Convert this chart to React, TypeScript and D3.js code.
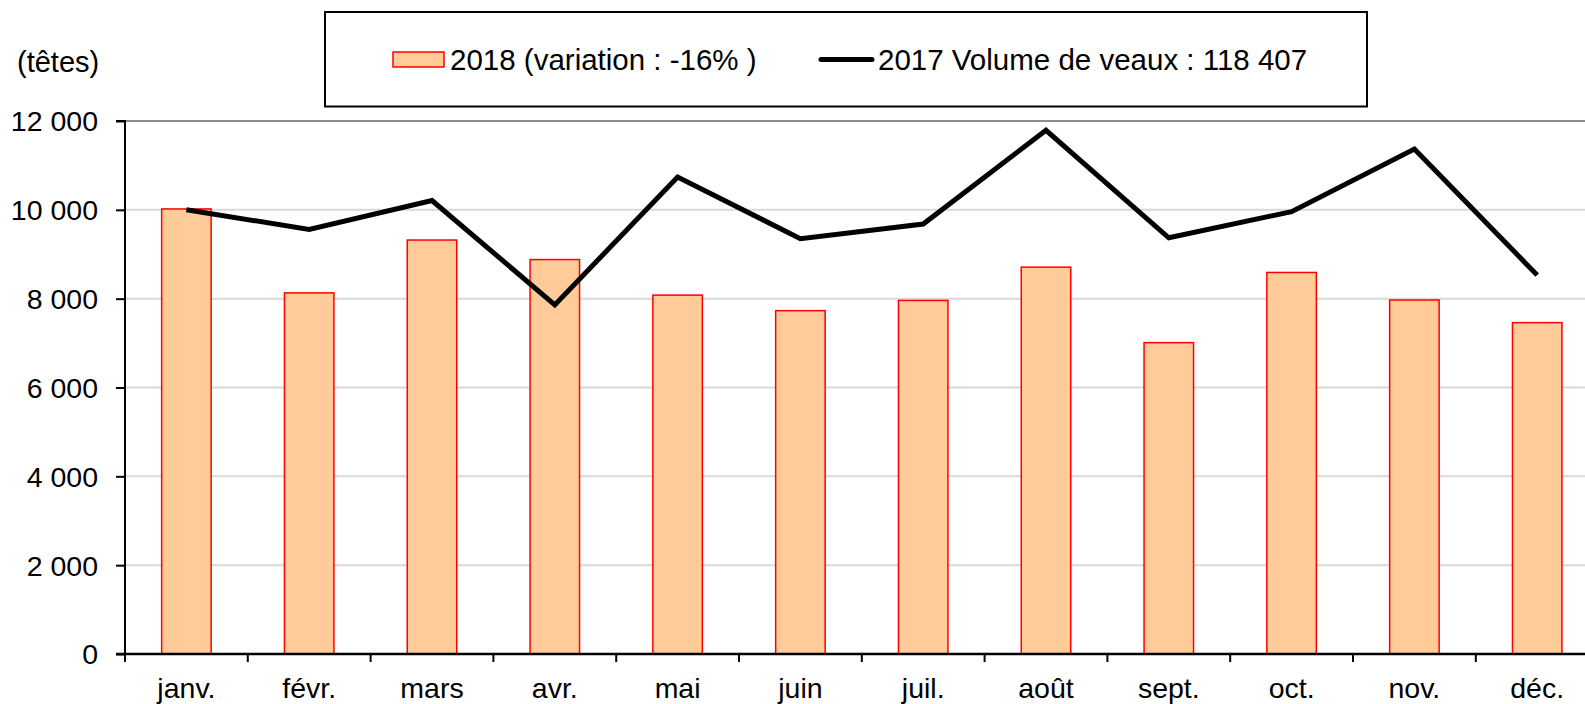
import React, { useEffect, useRef } from "react";
import * as d3 from "d3";

const months = ["janv.", "févr.", "mars", "avr.", "mai", "juin", "juil.", "août", "sept.", "oct.", "nov.", "déc."];
const values2018 = [10020, 8130, 9320, 8880, 8080, 7730, 7960, 8710, 7010, 8590, 7970, 7460];
const values2017 = [10000, 9560, 10210, 7860, 10740, 9350, 9680, 11790, 9370, 9960, 11370, 8530];
const yTicks = [0, 2000, 4000, 6000, 8000, 10000, 12000];
const legend2018 = "2018 (variation : -16% )";
const legend2017 = "2017 Volume de veaux : 118 407";
const unitLabel = "(têtes)";

const W = 1585;
const H = 704;
const FONT = "Liberation Sans, Arial, sans-serif";

export default function App() {
  const ref = useRef<SVGSVGElement | null>(null);

  useEffect(() => {
    const svg = d3.select(ref.current);
    svg.selectAll("*").remove();

    const x0 = 125;
    const step = 122.8;
    const x = d3
      .scaleBand<string>()
      .domain(months)
      .range([x0, x0 + step * months.length])
      .paddingInner(0.597)
      .paddingOuter(0.597 / 2);
    const xCenter = d3.scalePoint<string>().domain(months).range([x0 + step / 2, x0 + step * (months.length - 0.5)]);
    const y = d3.scaleLinear().domain([0, 12000]).range([654, 121]);

    // gridlines
    svg
      .append("g")
      .selectAll("line")
      .data(yTicks.filter((t) => t > 0))
      .join("line")
      .attr("x1", x0)
      .attr("x2", W)
      .attr("y1", (d) => y(d))
      .attr("y2", (d) => y(d))
      .attr("stroke", (d) => (d === 12000 ? "#8c8c8c" : "#d9d9d9"))
      .attr("stroke-width", 2);

    // bars
    svg
      .append("g")
      .selectAll("rect")
      .data(values2018)
      .join("rect")
      .attr("x", (_, i) => x(months[i])!)
      .attr("y", (d) => y(d))
      .attr("width", x.bandwidth())
      .attr("height", (d) => y(0) - y(d))
      .attr("fill", "#FFCC99")
      .attr("stroke", "#FF0000")
      .attr("stroke-width", 1.5);

    // line
    const line = d3
      .line<number>()
      .x((_, i) => xCenter(months[i])!)
      .y((d) => y(d));
    svg
      .append("path")
      .datum(values2017)
      .attr("d", line)
      .attr("fill", "none")
      .attr("stroke", "#000")
      .attr("stroke-width", 5)
      .attr("stroke-linejoin", "miter");

    // y axis
    const yAxis = d3
      .axisLeft(y)
      .tickValues(yTicks)
      .tickSize(9)
      .tickPadding(18)
      .tickFormat((d) => d3.format(",")(d as number).replace(/,/g, " "));
    const gy = svg.append("g").attr("transform", `translate(${x0},0)`).call(yAxis);
    gy.select(".domain").attr("stroke", "#000").attr("stroke-width", 2).attr("d", `M-9,${y(12000)}H0V${y(0)}`);
    gy.selectAll(".tick line").attr("stroke", "#000").attr("stroke-width", 2);
    gy.selectAll(".tick text")
      .attr("font-family", FONT)
      .attr("font-size", 28.5)
      .attr("fill", "#000")
      .attr("dy", "0.35em");

    // x axis
    const boundaries = d3.range(months.length + 1).map((i) => x0 + i * step);
    svg
      .append("line")
      .attr("x1", x0 - 9)
      .attr("x2", W)
      .attr("y1", y(0))
      .attr("y2", y(0))
      .attr("stroke", "#000")
      .attr("stroke-width", 2.5);
    svg
      .append("g")
      .selectAll("line")
      .data(boundaries)
      .join("line")
      .attr("x1", (d) => d)
      .attr("x2", (d) => d)
      .attr("y1", y(0))
      .attr("y2", y(0) + 8)
      .attr("stroke", "#000")
      .attr("stroke-width", 2);
    svg
      .append("g")
      .selectAll("text")
      .data(months)
      .join("text")
      .attr("x", (d) => xCenter(d)!)
      .attr("y", 698)
      .attr("text-anchor", "middle")
      .attr("font-family", FONT)
      .attr("font-size", 28.5)
      .attr("fill", "#000")
      .text((d) => d);

    // unit label
    svg
      .append("text")
      .attr("x", 17)
      .attr("y", 72)
      .attr("font-family", FONT)
      .attr("font-size", 29)
      .attr("fill", "#000")
      .text(unitLabel);

    // legend
    const lg = svg.append("g");
    lg.append("rect")
      .attr("x", 325)
      .attr("y", 12)
      .attr("width", 1042)
      .attr("height", 94.5)
      .attr("fill", "#fff")
      .attr("stroke", "#000")
      .attr("stroke-width", 2);
    lg.append("rect")
      .attr("x", 393)
      .attr("y", 52)
      .attr("width", 51)
      .attr("height", 15)
      .attr("fill", "#FFCC99")
      .attr("stroke", "#FF0000")
      .attr("stroke-width", 1.5);
    lg.append("text")
      .attr("x", 450)
      .attr("y", 69.5)
      .attr("font-family", FONT)
      .attr("font-size", 29.5)
      .attr("fill", "#000")
      .text(legend2018);
    lg.append("line")
      .attr("x1", 821)
      .attr("x2", 872)
      .attr("y1", 59.5)
      .attr("y2", 59.5)
      .attr("stroke", "#000")
      .attr("stroke-width", 5)
      .attr("stroke-linecap", "round");
    lg.append("text")
      .attr("x", 878)
      .attr("y", 69.5)
      .attr("font-family", FONT)
      .attr("font-size", 29.5)
      .attr("fill", "#000")
      .text(legend2017);
  }, []);

  return (
    <svg
      ref={ref}
      width={W}
      height={H}
      style={{ position: "absolute", left: 0, top: 0, background: "#fff" }}
    />
  );
}
